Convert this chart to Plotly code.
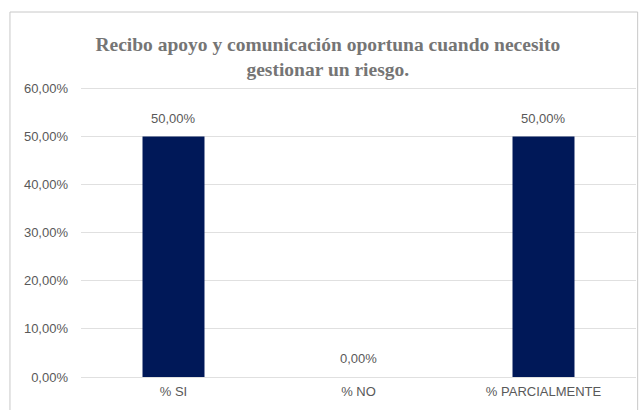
import plotly.graph_objects as go

categories = ["% SI", "% NO", "% PARCIALMENTE"]
values = [0.50, 0.00, 0.50]
tick_values = [0, 0.1, 0.2, 0.3, 0.4, 0.5, 0.6]

fig = go.Figure()
fig.add_trace(go.Bar(
    x=categories, y=values,
    marker=dict(color="#001858", line=dict(width=0)),
    width=0.335,
    hoverinfo="skip",
))

# value labels above each bar
for c, v in zip(categories, values):
    fig.add_annotation(
        x=c, y=v, xref="x", yref="y",
        text=f"{v*100:.2f}%".replace(".", ","),
        showarrow=False, yanchor="bottom", yshift=9,
        font=dict(family="Liberation Sans, Arial", size=13, color="#595959"),
    )

fig.update_layout(
    width=639, height=410,
    margin=dict(l=81, r=3, t=87, b=33),
    paper_bgcolor="white", plot_bgcolor="white",
    separators=",.",
    showlegend=False,
    title=dict(
        text="Recibo apoyo y comunicación oportuna cuando necesito<br>gestionar un riesgo.",
        x=0.513, xanchor="center", y=0.876, yanchor="middle",
        font=dict(family="Liberation Serif, Times New Roman", size=19.5, color="#757575", weight="bold"),
    ),
    font=dict(family="Liberation Sans, Arial", size=13, color="#595959"),
    xaxis=dict(showgrid=False, showline=False, ticks="", ticklabelstandoff=5,
               tickfont=dict(size=13, color="#595959")),
    yaxis=dict(
        range=[0, 0.603], tickvals=tick_values, tickformat=".2%",
        showgrid=True, gridcolor="#e0e0e0", gridwidth=1,
        zeroline=True, zerolinecolor="#e0e0e0", zerolinewidth=1,
        showline=False, ticks="", ticklabelstandoff=12,
        tickfont=dict(size=13, color="#595959"),
    ),
    shapes=[dict(
        type="rect", xref="paper", yref="paper",
        x0=-0.128, x1=1.003, y0=-0.13, y1=1.2586,
        line=dict(color="#c8c8c8", width=1), fillcolor="rgba(0,0,0,0)", layer="below",
    )],
)

fig.write_html("out.html")
